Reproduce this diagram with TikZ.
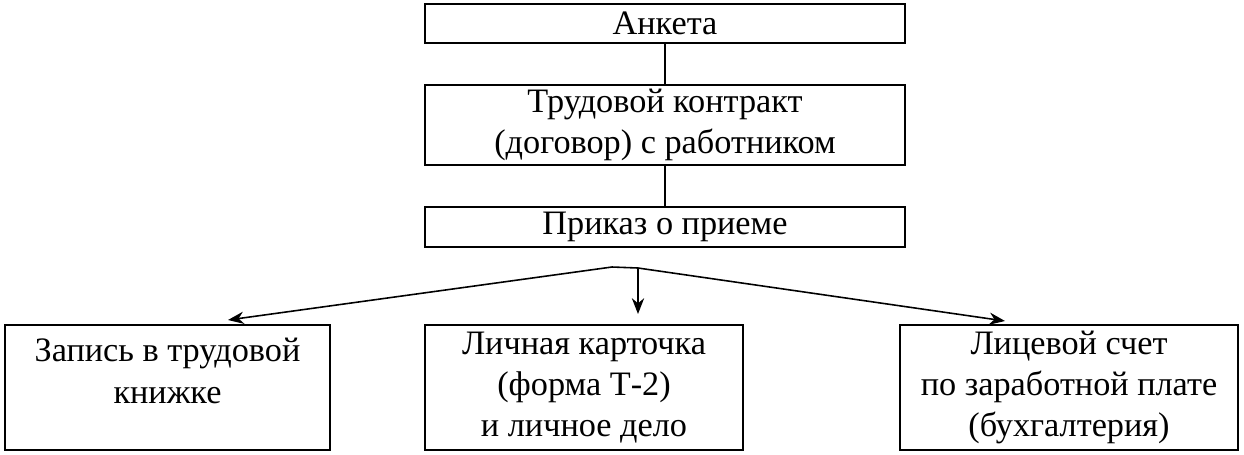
\documentclass[tikz,border=0pt]{standalone}
\usepackage{fontspec}
\setmainfont{Liberation Serif}
\usetikzlibrary{arrows.meta}
\begin{document}
\begin{tikzpicture}[x=0.02cm,y=-0.02cm,
  box/.style={draw,line width=0.9pt,inner sep=0pt,align=center,font=\fontsize{19.5}{23.5}\selectfont},
  txt/.style={inner sep=0pt,align=center,font=\fontsize{19.5}{23.5}\selectfont},
  arr/.style={line width=0.9pt,-{Stealth[length=9pt,width=7pt]}}]
\useasboundingbox (0,0) rectangle (1244,454);
\node[box,minimum width=480*0.02cm,minimum height=39*0.02cm] (a) at (665,23.5) {Анкета};
\node[box,minimum width=480*0.02cm,minimum height=80*0.02cm] (b) at (665,125) {Трудовой контракт\\(договор) с работником};
\node[box,minimum width=480*0.02cm,minimum height=40*0.02cm] (c) at (665,227) {Приказ о приеме};
\node[box,minimum width=325*0.02cm,minimum height=125*0.02cm] (l) at (167.5,387.5) {};
\node[txt] (lt) at (167.5,371) {Запись в трудовой\\книжке};
\node[box,minimum width=318*0.02cm,minimum height=125*0.02cm] (m) at (584,387.5) {Личная карточка\\(форма Т-2)\\и личное дело};
\node[box,minimum width=338*0.02cm,minimum height=125*0.02cm] (r) at (1069,387.5) {Лицевой счет\\по заработной плате\\(бухгалтерия)};
\draw[line width=0.9pt] (a) -- (b);
\draw[line width=0.9pt] (b) -- (c);
\coordinate (s1) at (612,267);
\coordinate (s2) at (638,268);
\coordinate (tl) at (228,320);
\coordinate (tm) at (638,314);
\coordinate (tr) at (1005,321);
\draw[line width=0.9pt] (s1) -- (s2);
\draw[arr] (s1) -- (tl);
\draw[arr] (s2) -- (tm);
\draw[arr] (s2) -- (tr);
\end{tikzpicture}
\end{document}
